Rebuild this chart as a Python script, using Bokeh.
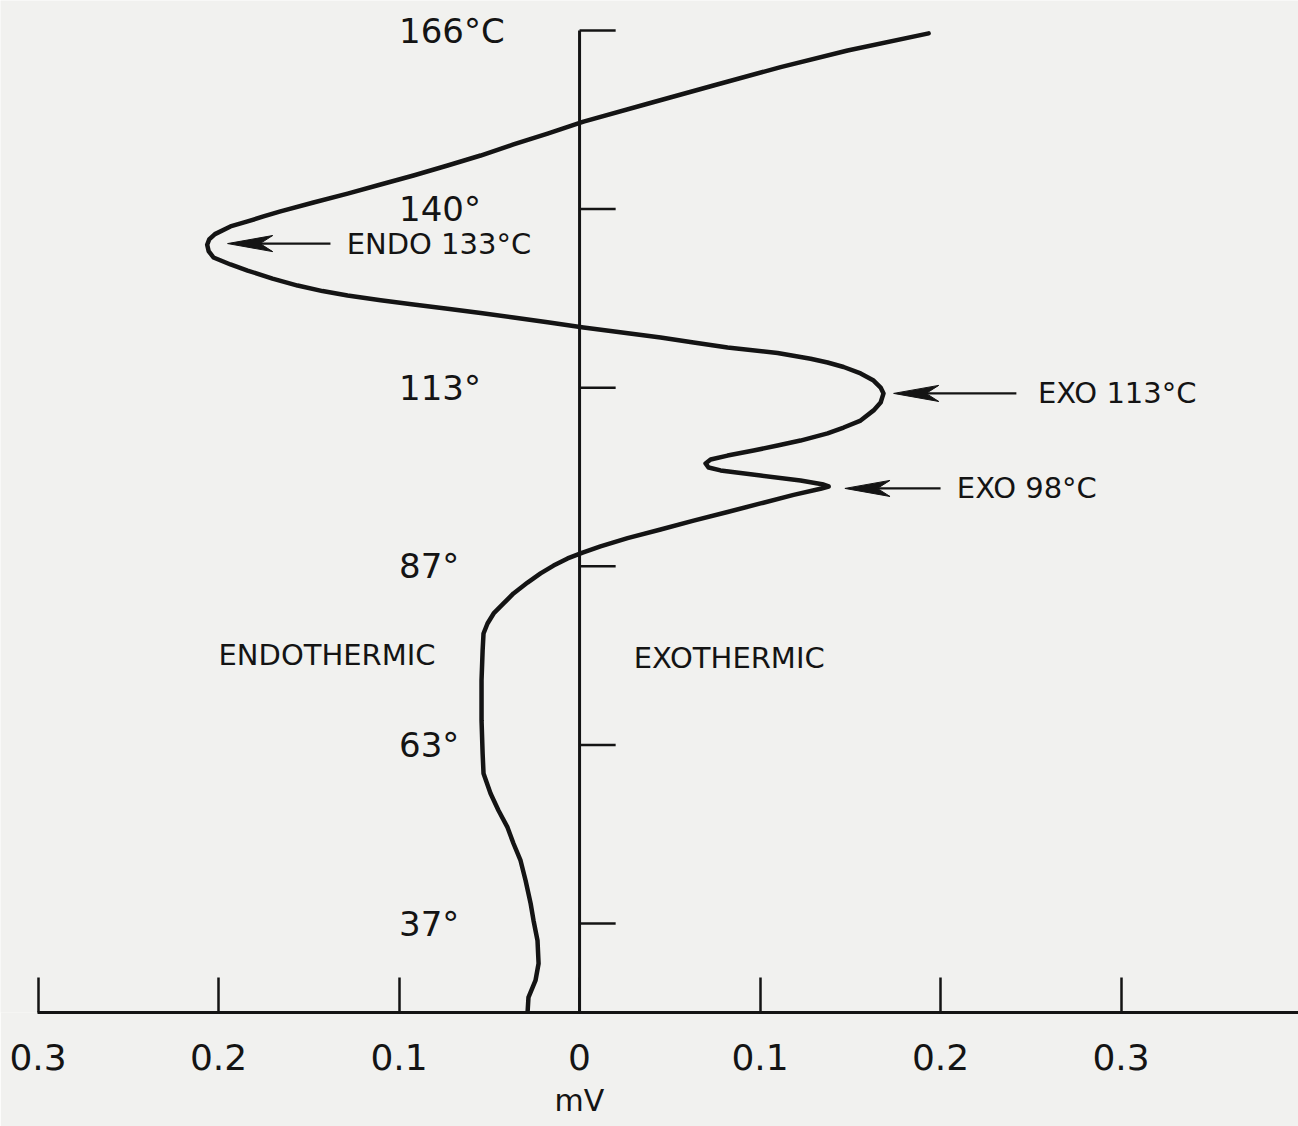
from bokeh.plotting import figure
from bokeh.models import Range1d, FixedTicker, Title
from bokeh.core.properties import value
from bokeh.embed import file_html
from bokeh.resources import INLINE

# ---- data ----
# differential signal in mV (negative = endothermic side) vs. chart position
# (chart position: one unit = one temperature tick division, 37° at 0 ... 166°C at 5)
curve_mv = [-0.0288, -0.0283, -0.0244, -0.0227, -0.0233, -0.0255, -0.0271, -0.0299, -0.0327, -0.0366,
            -0.0399, -0.0449, -0.0493, -0.0532, -0.0537, -0.0543, -0.0543, -0.0537, -0.0532, -0.0510,
            -0.0476, -0.0421, -0.0366, -0.0288, -0.0216, -0.0144, -0.0066, 0.0017, 0.0116, 0.0266,
            0.0449, 0.0632, 0.0820, 0.1003, 0.1186, 0.1335, 0.1380, 0.1352, 0.1224, 0.1003,
            0.0781, 0.0715, 0.0698, 0.0726, 0.0820, 0.0964, 0.1097, 0.1224, 0.1374, 0.1463,
            0.1557, 0.1629, 0.1668, 0.1684, 0.1668, 0.1629, 0.1557, 0.1463, 0.1374, 0.1280,
            0.1097, 0.0820, 0.0632, 0.0449, 0.0172, 0.0022, -0.0177, -0.0366, -0.0548, -0.0731,
            -0.0920, -0.1102, -0.1285, -0.1424, -0.1562, -0.1701, -0.1839, -0.1934, -0.2028, -0.2055,
            -0.2063, -0.2052, -0.2020, -0.1934, -0.1839, -0.1751, -0.1657, -0.1474, -0.1285, -0.1102,
            -0.0920, -0.0731, -0.0548, -0.0366, -0.0177, 0.0022, 0.0377, 0.0742, 0.1114, 0.1485,
            0.1934]
curve_pos = [-0.498, -0.414, -0.319, -0.224, -0.095, 0.017, 0.112, 0.241, 0.353, 0.448,
             0.538, 0.633, 0.728, 0.840, 0.952, 1.137, 1.361, 1.529, 1.624, 1.680,
             1.736, 1.792, 1.848, 1.909, 1.960, 2.004, 2.044, 2.077, 2.112, 2.158,
             2.206, 2.256, 2.304, 2.352, 2.400, 2.434, 2.447, 2.458, 2.480, 2.508,
             2.537, 2.553, 2.576, 2.598, 2.620, 2.648, 2.676, 2.704, 2.744, 2.777,
             2.816, 2.873, 2.917, 2.968, 3.001, 3.040, 3.080, 3.116, 3.141, 3.162,
             3.194, 3.225, 3.253, 3.281, 3.318, 3.337, 3.366, 3.393, 3.418, 3.442,
             3.466, 3.490, 3.516, 3.541, 3.572, 3.611, 3.656, 3.690, 3.729, 3.765,
             3.800, 3.830, 3.860, 3.903, 3.931, 3.959, 3.987, 4.037, 4.087, 4.138,
             4.188, 4.244, 4.300, 4.362, 4.423, 4.490, 4.590, 4.692, 4.795, 4.888,
             4.984]

temp_tick_pos = [0, 1, 2, 3, 4, 5]
temp_tick_labels = ["37°", "63°", "87°", "113°", "140°", "166°C"]

mv_ticks = [-0.3, -0.2, -0.1, 0.0, 0.1, 0.2, 0.3]
mv_tick_labels = ["0.3", "0.2", "0.1", "0", "0.1", "0.2", "0.3"]

peak_labels = ["ENDO 133°C", "EXO 113°C", "EXO 98°C"]
peak_pos = [3.807, 2.968, 2.436]
peak_arrow_tip = [-0.195, 0.174, 0.147]
peak_arrow_tail = [-0.138, 0.242, 0.200]
peak_label_x = [-0.129, 0.254, 0.209]

side_labels = ["ENDOTHERMIC", "EXOTHERMIC"]
side_label_x = [-0.200, 0.030]
side_label_pos = [1.506, 1.489]

# ---- styling ----
INK = "#141414"
PAPER = "#f1f1ef"
FONT = "DejaVu Sans"
X0, X1 = -0.3208, 0.3983
Y0, Y1 = -0.4983, 5.168
TICK_LEN = 0.02          # length of the temperature tick marks, mV units
LABEL_LEFT = -0.1        # left edge of the temperature labels, mV units
HEAD_LEN = 0.025         # arrow head length, mV units
HEAD_HALF = 0.045        # arrow head half width, chart units

p = figure(width=1298, height=1126,
           x_range=Range1d(X0, X1), y_range=Range1d(Y0, Y1),
           output_backend="svg", toolbar_location=None,
           x_axis_location="below", y_axis_location=None,
           min_border_left=0, min_border_right=0, min_border_top=0, min_border_bottom=114)
p.background_fill_color = PAPER
p.border_fill_color = PAPER
p.outline_line_color = None
p.grid.visible = False

# bottom mV axis (its line starts at the 0.3 tick on the endothermic side)
xa = p.xaxis[0]
xa.bounds = (mv_ticks[0] - 0.0002, X1)
xa.ticker = FixedTicker(ticks=mv_ticks)
xa.major_label_overrides = {t: l for t, l in zip(mv_ticks, mv_tick_labels)}
xa.axis_line_color = INK
xa.axis_line_width = 3
xa.major_tick_line_color = INK
xa.major_tick_line_width = 2.5
xa.major_tick_in = 35
xa.major_tick_out = 0
xa.minor_tick_line_color = None
xa.major_label_standoff = 31
xa.major_label_text_font = FONT
xa.major_label_text_font_size = "36px"
xa.major_label_text_color = INK

# unit label centred under the zero tick
p.add_layout(Title(text="mV", align="left", offset=554, standoff=16,
                   text_font=FONT, text_font_size="30px", text_font_style="normal",
                   text_color=INK), "below")

# vertical temperature axis at 0 mV with ticks on its right
n = len(temp_tick_pos)
p.segment(x0=[0], y0=[Y0], x1=[0], y1=[temp_tick_pos[-1]], line_color=INK, line_width=3)
p.segment(x0=[0] * n, y0=temp_tick_pos, x1=[TICK_LEN] * n, y1=temp_tick_pos,
          line_color=INK, line_width=2.5)
p.text(x=[LABEL_LEFT] * n, y=temp_tick_pos, text=temp_tick_labels,
       text_font=value(FONT), text_font_size="34px", text_color=INK,
       text_align="left", text_baseline="middle")

# DTA curve
p.line(curve_mv, curve_pos, line_color=INK, line_width=4.5, line_join="round", line_cap="round")

# peak arrows (shaft + notched head) and labels
head_xs, head_ys, shaft_end = [], [], []
for tip, tail, y in zip(peak_arrow_tip, peak_arrow_tail, peak_pos):
    d = 1 if tail > tip else -1
    back = tip + d * HEAD_LEN
    notch = tip + d * HEAD_LEN * 0.72
    head_xs.append([tip, back, notch, back])
    head_ys.append([y, y + HEAD_HALF, y, y - HEAD_HALF])
    shaft_end.append(notch)
p.segment(x0=peak_arrow_tail, y0=peak_pos, x1=shaft_end, y1=peak_pos,
          line_color=INK, line_width=2.2)
p.patches(head_xs, head_ys, fill_color=INK, line_color=INK, line_width=1)
p.text(x=peak_label_x, y=peak_pos, text=peak_labels,
       text_font=value(FONT), text_font_size="29px", text_color=INK,
       text_align="left", text_baseline="middle")

# side labels
p.text(x=side_label_x, y=side_label_pos, text=side_labels,
       text_font=value(FONT), text_font_size="29px", text_color=INK,
       text_align="left", text_baseline="middle")

open("out.html", "w").write(file_html(p, INLINE))
